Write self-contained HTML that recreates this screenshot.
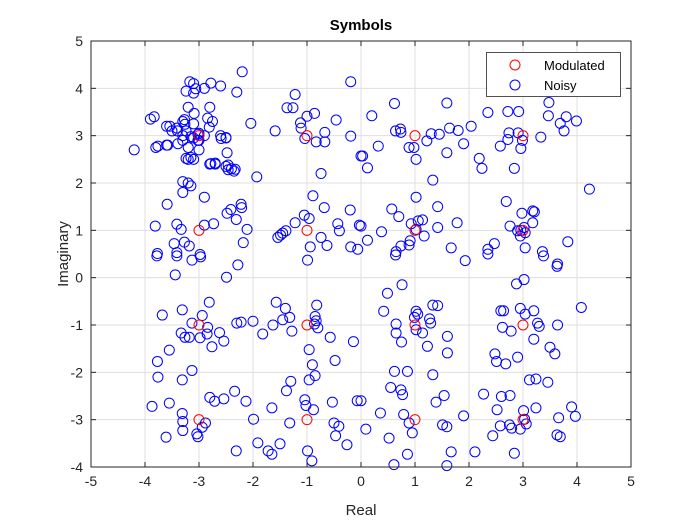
<!DOCTYPE html>
<html><head><meta charset="utf-8"><style>
html,body{margin:0;padding:0;background:#fff;}
svg{display:block;font-family:"Liberation Sans",Arial,sans-serif;}
</style></head><body>
<svg id="chart" width="700" height="525" viewBox="0 0 700 525" xmlns="http://www.w3.org/2000/svg">
<rect width="700" height="525" fill="#fff"/>
<g id="grid"></g>
<g id="plot"></g>
<g id="axes"></g>
<text x="361" y="30" text-anchor="middle" font-size="15" font-weight="bold" fill="#000">Symbols</text>
<text x="361" y="515" text-anchor="middle" font-size="15" fill="#262626">Real</text>
<text transform="translate(68,254) rotate(-90)" text-anchor="middle" font-size="15" fill="#262626">Imaginary</text>
<g>
<rect x="486.5" y="52.5" width="134" height="44" fill="#fff" stroke="#262626" stroke-width="0.8"/>
<circle cx="515" cy="65" r="5" fill="none" stroke="#ff0000" stroke-width="1"/>
<text x="544" y="70" font-size="13" fill="#000">Modulated</text>
<circle cx="515" cy="85" r="5" fill="none" stroke="#0000ff" stroke-width="1"/>
<text x="544" y="90" font-size="13" fill="#000">Noisy</text>
</g>
</svg>
<script>
const xTicks=[-5,-4,-3,-2,-1,0,1,2,3,4,5];
const yTicks=[-4,-3,-2,-1,0,1,2,3,4,5];
const modX=[-3,-1,1,3,-3,-1,1,3,-3,-1,1,3,-3,-1,1,3];
const modY=[3,3,3,3,1,1,1,1,-1,-1,-1,-1,-3,-3,-3,-3];
const noisyX=[-3.9,-3.8,-3.6,-3.6,-3.5,-3.4,-3.3,-3.2,-3.1,-3.1,-2.9,-2.8,-2.6,-3.3,-3.2,-3.1,-3.0,-2.9,-3.0,-3.2,-3.1,-3.2,-2.8,-2.7,-2.5,-2.4,-2.35,-3.3,-3.0,-3.1,-2.6,-2.5,-3.3,-2.9,-4.2,
-3.17,-3.24,-3.06,-2.78,-2.2,-2.3,-3.83,-3.54,-3.41,-3.26,-3.27,-3.09,-2.84,-2.75,-2.81,-3.24,-3.15,-3.02,-3.02,-3.39,-3.58,-3.76,-2.59,-2.5,-2.48,-3.24,-3.15,-2.78,-2.70,-2.46,-2.46,-2.33,-2.04,-1.93,-3.30,-3.15,-3.59,
-1.22,-1.37,-1.26,-1.0,-0.86,-1.12,-1.11,-1.04,-0.83,-0.67,-0.67,-0.46,-0.19,-0.19,-1.59,-0.74,-0.89,-0.68,0,
0.62,1.59,0.20,0.64,0.73,0.74,0.32,0.03,0.12,0.89,0.98,1.02,1.22,1.30,1.45,1.64,1.80,1.59,1.90,2.04,2.35,2.72,2.92,2.74,2.91,2.72,2.58,2.99,2.96,2.19,2.24,2.84,3.33,3.47,3.48,3.69,3.80,3.76,3.99,1.33,4.23,
1.02,0.57,0.70,1.42,0.93,1.06,1.02,1.14,1.17,1.42,1.78,0.38,0.12,0.0,2.69,2.98,3.18,3.21,3.18,2.76,2.90,2.96,3.04,2.95,3.02,3.36,3.04,3.83,2.47,2.35,0.91,0.89,0.74,0.65,1.67,
-3.81,-3.41,-3.33,-2.90,-2.73,-2.48,-2.41,-2.31,-2.22,-2.21,-2.11,-3.46,-3.27,-3.18,-3.77,-3.41,-2.98,-2.18,-1.54,-1.49,-1.45,-1.39,-1.22,-1.05,-0.96,-0.74,-0.63,-0.94,-0.43,-0.40,-0.20,-0.03,-0.19,-0.06,
-3.78,-3.41,-3.13,-2.97,-2.28,-3.44,-2.49,-0.99,
-3.68,-3.31,-2.81,-2.94,-3.13,-2.84,-3.33,-3.26,-3.18,-2.98,-2.85,-2.62,-2.54,-2.76,-3.55,-3.77,-3.13,-3.76,-3.31,
-2.30,-2.22,-2.00,-1.82,-1.63,-1.57,-1.40,-1.45,-1.32,-1.28,
-0.82,-0.85,-0.83,-0.80,-0.86,-0.57,-0.14,-0.96,-0.90,-0.48,-0.85,-0.96,-1.30,-1.38,
-3.87,-3.55,-3.31,-3.30,-3.30,-3.61,-3.04,-3.02,-2.94,-2.88,-2.80,-2.71,-2.54,-2.34,-2.13,
-1.99,-1.65,-1.91,-1.72,-1.65,-1.50,-2.31,-1.32,-1.04,-1.02,-0.88,-0.53,-0.07,-0.50,-0.41,-0.47,-0.26,-0.99,-0.91,
0.64,1.93,2.35,3.38,3.64,3.63,2.88,3.02,
0.76,0.49,0.42,0.65,0.65,0.75,1.02,1.05,0.99,1.02,1.14,1.27,1.29,1.33,1.42,1.23,1.60,1.60,0.62,0.86,1.33,0.55,0.74,0.77,
2.59,2.64,2.95,3.04,3.20,2.62,2.78,3.27,3.30,3.20,3.64,3.50,3.59,2.48,2.51,2.68,2.90,3.12,3.24,3.46,4.08,
0,0.36,0.79,0.89,0.95,0.52,0.09,0.86,0.61,1.39,1.54,1.51,1.59,1.67,1.90,2.11,1.59,
2.27,2.52,2.60,2.76,2.58,2.75,2.79,2.95,2.44,2.84,3.01,3.06,3.03,3.24,3.66,3.63,3.69,3.90,3.97];
const noisyY=[3.35,2.75,2.8,3.2,3.1,3.1,3.3,3.6,4.1,3.9,4.0,3.6,4.05,2.9,2.75,2.95,2.9,3.0,2.7,2.5,2.5,2.0,2.4,2.4,2.35,2.3,2.25,3.0,3.05,3.25,3.0,2.95,1.8,1.7,2.7,
4.14,3.94,3.99,4.11,4.35,3.92,3.4,3.20,3.16,3.24,3.34,3.47,3.37,3.30,3.18,3.10,2.98,3.03,2.90,2.83,2.80,2.78,2.94,2.96,2.64,2.52,2.54,2.41,2.42,2.38,2.28,2.29,3.26,2.13,2.03,1.94,1.55,
3.87,3.59,3.59,3.41,3.47,3.27,3.16,2.94,2.87,3.07,2.87,3.33,2.99,4.14,3.10,2.20,1.73,1.48,2.57,
3.68,3.69,3.42,3.10,3.14,3.07,2.78,2.57,2.32,2.75,2.75,2.50,2.89,3.04,3.03,3.16,3.11,2.64,2.83,3.20,3.49,3.51,3.51,3.06,3.06,2.92,2.78,2.90,2.73,2.52,2.31,2.31,2.97,3.42,3.70,3.26,3.40,3.10,3.31,2.06,1.87,
1.70,1.45,1.29,1.50,1.14,1.20,1.02,1.22,0.88,1.06,1.16,0.97,0.79,1.09,1.61,1.36,1.41,1.39,1.16,1.09,0.99,1.00,0.95,0.88,1.06,0.55,0.63,0.76,0.72,0.60,0.78,0.69,0.67,0.55,0.63,
1.09,1.13,1.02,1.11,1.14,1.36,1.44,1.23,1.55,1.48,1.02,0.72,0.75,0.67,0.51,0.53,0.49,0.74,0.85,0.90,0.94,0.99,1.16,1.32,1.25,0.85,0.68,0.65,1.14,0.99,1.43,1.11,0.65,0.60,
0.46,0.46,0.37,0.44,0.27,0.06,0.01,0.37,
-0.79,-0.68,-0.52,-0.80,-0.96,-1.05,-1.17,-1.26,-1.26,-1.27,-1.19,-1.16,-1.34,-1.46,-1.53,-1.77,-1.96,-2.10,-2.16,
-0.96,-0.94,-0.92,-1.19,-1.00,-0.52,-0.65,-0.89,-0.84,-1.13,
-0.58,-0.82,-0.91,-1.06,-0.98,-1.26,-1.35,-1.52,-1.84,-1.75,-2.07,-2.16,-2.19,-2.39,
-2.72,-2.65,-2.87,-3.04,-3.23,-3.37,-3.30,-3.36,-3.16,-3.07,-2.53,-2.61,-2.56,-2.40,-2.61,
-2.99,-2.75,-3.49,-3.66,-3.73,-3.51,-3.66,-3.07,-2.58,-2.70,-2.79,-2.63,-2.60,-3.07,-3.14,-3.34,-3.53,-3.66,-3.87,
0.48,0.36,0.50,0.46,0.29,0.24,-0.13,-0.04,
-0.15,-0.33,-0.71,-0.98,-1.17,-1.36,-0.71,-0.77,-0.84,-1.10,-1.17,-0.87,-0.96,-0.58,-0.59,-1.45,-1.24,-1.59,-1.98,-1.98,-2.05,-2.32,-2.37,-2.47,
-0.70,-0.70,-0.65,-0.77,-0.70,-1.05,-1.13,-0.96,-1.03,-1.30,-1.00,-1.47,-1.61,-1.61,-1.77,-1.82,-1.68,-2.16,-2.14,-2.21,-0.63,
-2.60,-2.86,-2.89,-3.07,-3.28,-3.39,-3.20,-3.73,-3.95,-2.63,-2.49,-3.11,-3.15,-3.68,-2.92,-3.68,-3.97,
-2.46,-2.79,-2.51,-2.49,-3.13,-3.11,-3.18,-3.20,-3.34,-3.71,-2.81,-3.09,-2.99,-2.75,-2.96,-3.32,-3.36,-2.73,-2.93];

const L=91,R=631,T=41,B=467;
const xMin=-5,xMax=5,yMin=-4,yMax=5;
function sx(v){return L+(v-xMin)/(xMax-xMin)*(R-L);}
function sy(v){return B-(v-yMin)/(yMax-yMin)*(B-T);}
const NS="http://www.w3.org/2000/svg";
function mk(tag,attrs,parent){const e=document.createElementNS(NS,tag);for(const k in attrs)e.setAttribute(k,attrs[k]);parent.appendChild(e);return e;}
const grid=document.getElementById('grid'),axes=document.getElementById('axes'),plot=document.getElementById('plot');
mk('rect',{x:L,y:T,width:R-L,height:B-T,fill:'#fff'},grid);
xTicks.forEach(t=>{
  const x=sx(t);
  const g=mk('line',{x1:x,y1:T,x2:x,y2:B,stroke:'#dfdfdf','stroke-width':1},grid);
  
  
  mk('line',{x1:x,y1:B,x2:x,y2:B-5,stroke:'#262626','stroke-width':1},axes);
  mk('line',{x1:x,y1:T,x2:x,y2:T+5,stroke:'#262626','stroke-width':1},axes);
  const tx=mk('text',{x:x,y:B+19,'text-anchor':'middle','font-size':14,fill:'#262626'},axes);
  tx.textContent=String(t);
  
  
});
yTicks.forEach(t=>{
  const y=sy(t);
  const g=mk('line',{x1:L,y1:y,x2:R,y2:y,stroke:'#dfdfdf','stroke-width':1},grid);
  
  
  mk('line',{x1:L,y1:y,x2:L+5,y2:y,stroke:'#262626','stroke-width':1},axes);
  mk('line',{x1:R,y1:y,x2:R-5,y2:y,stroke:'#262626','stroke-width':1},axes);
  const tx=mk('text',{x:L-8,y:y+5,'text-anchor':'end','font-size':14,fill:'#262626'},axes);
  tx.textContent=String(t);
  
  
});
mk('rect',{x:L,y:T,width:R-L,height:B-T,fill:'none',stroke:'#262626','stroke-width':1},axes);
for(let i=0;i<noisyX.length;i++){
  const c=mk('circle',{cx:sx(noisyX[i]),cy:sy(noisyY[i]),r:5,fill:'none',stroke:'#0000ff','stroke-width':1},plot);
  
  
}
for(let i=0;i<modX.length;i++){
  const c=mk('circle',{cx:sx(modX[i]),cy:sy(modY[i]),r:5,fill:'none',stroke:'#ff0000','stroke-width':1},plot);
  
  
}
</script>
</body></html>
